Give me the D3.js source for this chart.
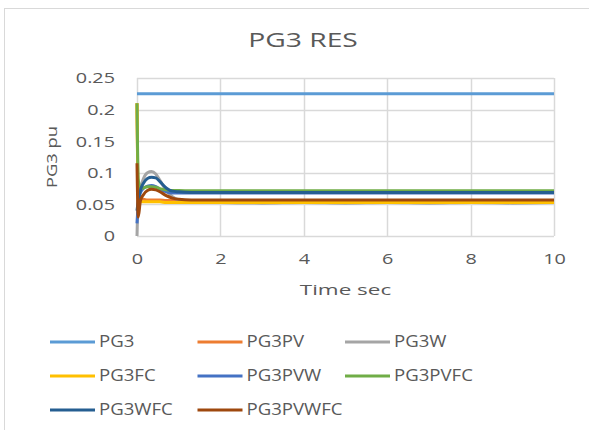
<!DOCTYPE html>
<html>
<head>
<meta charset="utf-8">
<script src="https://cdn.jsdelivr.net/npm/d3@7"></script>
<style>
  body { margin: 0; background: #fff; }
  svg { font-family: "Open Sans", sans-serif; }
</style>
</head>
<body>
<svg id="chart" width="589" height="430"></svg>
<script>
// time axis (sec)
const times = [0, 0.03, 0.08, 0.15, 0.25, 0.35, 0.45, 0.55, 0.7, 0.85, 1.0, 1.3, 2, 3, 4, 5, 6, 7, 8, 9, 10];

const pg3 =      [0.225, 0.225, 0.225, 0.225, 0.225, 0.225, 0.225, 0.225, 0.225, 0.225, 0.225, 0.225, 0.225, 0.225, 0.225, 0.225, 0.225, 0.225, 0.225, 0.225, 0.225];
const pg3pv =    [0.21, 0.06, 0.058, 0.058, 0.057, 0.057, 0.057, 0.057, 0.056, 0.056, 0.056, 0.056, 0.056, 0.056, 0.056, 0.056, 0.056, 0.056, 0.056, 0.056, 0.056];
const pg3w =     [0, 0.06, 0.075, 0.09, 0.1, 0.102, 0.098, 0.088, 0.072, 0.062, 0.057, 0.054, 0.053, 0.052, 0.053, 0.052, 0.053, 0.052, 0.053, 0.052, 0.053];
const pg3fc =    [0.21, 0.055, 0.054, 0.054, 0.054, 0.054, 0.054, 0.054, 0.053, 0.053, 0.053, 0.053, 0.053, 0.053, 0.053, 0.053, 0.053, 0.053, 0.053, 0.053, 0.053];
const pg3pvw =   [0.02, 0.05, 0.068, 0.075, 0.079, 0.08, 0.078, 0.074, 0.07, 0.068, 0.068, 0.068, 0.068, 0.068, 0.068, 0.068, 0.068, 0.068, 0.068, 0.068, 0.068];
const pg3pvfc =  [0.21, 0.09, 0.075, 0.076, 0.078, 0.078, 0.077, 0.075, 0.073, 0.072, 0.072, 0.0715, 0.0715, 0.0715, 0.0715, 0.0715, 0.0715, 0.0715, 0.0715, 0.0715, 0.0715];
const pg3wfc =   [0.04, 0.055, 0.072, 0.083, 0.091, 0.093, 0.092, 0.086, 0.076, 0.071, 0.07, 0.069, 0.069, 0.069, 0.069, 0.069, 0.069, 0.069, 0.069, 0.069, 0.069];
const pg3pvwfc = [0.115, 0.03, 0.055, 0.065, 0.072, 0.074, 0.073, 0.07, 0.064, 0.06, 0.058, 0.057, 0.057, 0.057, 0.057, 0.057, 0.057, 0.057, 0.057, 0.057, 0.057];

const seriesNames = ["PG3", "PG3PV", "PG3W", "PG3FC", "PG3PVW", "PG3PVFC", "PG3WFC", "PG3PVWFC"];
const seriesValues = [pg3, pg3pv, pg3w, pg3fc, pg3pvw, pg3pvfc, pg3wfc, pg3pvwfc];
const colors = ["#5B9BD5", "#ED7D31", "#A5A5A5", "#FFC000", "#4472C4", "#70AD47", "#255E91", "#9E480E"];

const yTicks = [0, 0.05, 0.1, 0.15, 0.2, 0.25];
const xTicks = [0, 2, 4, 6, 8, 10];

const svg = d3.select("#chart");

// chart area border
svg.append("rect")
  .attr("x", 4.5).attr("y", 8.5)
  .attr("width", 620).attr("height", 500)
  .attr("fill", "#fff")
  .attr("stroke", "#d9d9d9");

const plot = { left: 137, right: 554, top: 78, bottom: 236 };

const x = d3.scaleLinear().domain([0, 10]).range([plot.left, plot.right]);
const y = d3.scaleLinear().domain([0, 0.25]).range([plot.bottom, plot.top]);

// grid
svg.append("g")
  .selectAll("line")
  .data(yTicks)
  .enter()
  .append("line")
  .attr("x1", plot.left).attr("x2", plot.right)
  .attr("y1", (d) => Math.round(y(d)) + 0.5)
  .attr("y2", (d) => Math.round(y(d)) + 0.5)
  .attr("stroke", "#d9d9d9").attr("stroke-width", 1.5);

svg.append("g")
  .selectAll("line")
  .data(xTicks)
  .enter()
  .append("line")
  .attr("x1", (d) => Math.round(x(d)) + 0.5)
  .attr("x2", (d) => Math.round(x(d)) + 0.5)
  .attr("y1", plot.top).attr("y2", plot.bottom)
  .attr("stroke", "#d9d9d9").attr("stroke-width", 1.5);

// axes labels (the original text is drawn wide, hence the scaleX)
const yAxis = svg.append("g")
  .attr("transform", `translate(${plot.left - 22},0)`)
  .call(d3.axisLeft(y).tickValues(yTicks).tickSize(0).tickFormat(d3.format("~g")));
yAxis.select(".domain").remove();
yAxis.selectAll("text")
  .attr("x", 0)
  .attr("transform", "scale(1.32,1)")
  .attr("font-family", "Open Sans, sans-serif")
  .attr("font-size", 15)
  .attr("fill", "#595959");

const xAxis = svg.append("g")
  .attr("transform", `translate(0,${plot.bottom + 14})`)
  .call(d3.axisBottom(x).tickValues(xTicks).tickSize(0));
xAxis.select(".domain").remove();
xAxis.selectAll("text")
  .attr("transform", "scale(1.32,1)")
  .attr("font-family", "Open Sans, sans-serif")
  .attr("font-size", 15)
  .attr("fill", "#595959");

// lines
const line = d3.line()
  .x((d, i) => x(times[i]))
  .y((d) => y(d))
  .curve(d3.curveMonotoneX);

svg.append("g")
  .selectAll("path")
  .data(seriesValues)
  .enter()
  .append("path")
  .attr("fill", "none")
  .attr("stroke", (d, i) => colors[i])
  .attr("stroke-width", 3)
  .attr("stroke-linejoin", "round")
  .attr("d", line);

// titles
svg.append("text")
  .attr("transform", "translate(303,47) scale(1.45,1)")
  .attr("text-anchor", "middle")
  .attr("font-size", 19.5)
  .attr("fill", "#595959")
  .text("PG3 RES");

svg.append("text")
  .attr("transform", `translate(57,${(plot.top + plot.bottom) / 2}) rotate(-90) scale(1.22,1)`)
  .attr("text-anchor", "middle")
  .attr("font-size", 15)
  .attr("fill", "#595959")
  .text("PG3 pu");

svg.append("text")
  .attr("transform", `translate(${(plot.left + plot.right) / 2},295) scale(1.5,1)`)
  .attr("text-anchor", "middle")
  .attr("font-size", 15)
  .attr("fill", "#595959")
  .text("Time sec");

// legend
const legend = svg.append("g")
  .selectAll("g")
  .data(seriesNames)
  .enter()
  .append("g")
  .attr("transform", (d, i) => `translate(${50 + (i % 3) * 147.5},${342 + Math.floor(i / 3) * 34})`);

legend.append("line")
  .attr("x1", 0).attr("x2", 45)
  .attr("stroke", (d, i) => colors[i])
  .attr("stroke-width", 3);

legend.append("text")
  .attr("transform", "translate(49,0) scale(1.2,1)")
  .attr("dy", "0.35em")
  .attr("font-size", 15.5)
  .attr("fill", "#595959")
  .text((d) => d);
</script>
</body>
</html>
